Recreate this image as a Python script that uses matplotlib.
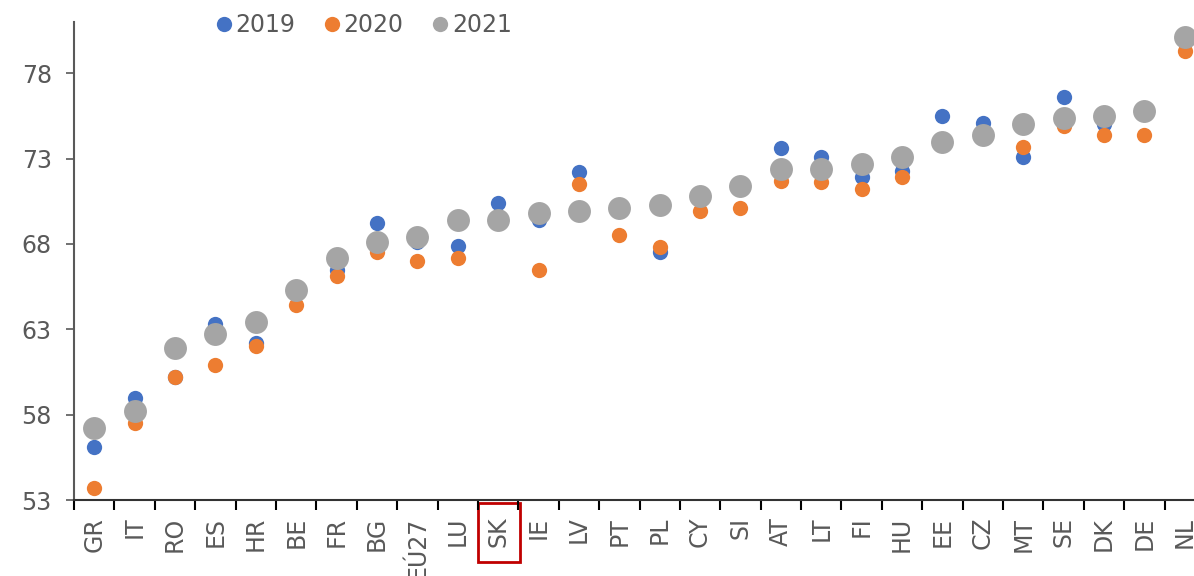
import matplotlib
matplotlib.use("Agg")
import matplotlib.pyplot as plt
from matplotlib.lines import Line2D
from matplotlib.patches import Rectangle
import matplotlib.transforms as mtransforms

# Country codes, sorted by 2021 value
countries = ["GR", "IT", "RO", "ES", "HR", "BE", "FR", "BG", "EÚ27", "LU",
             "SK", "IE", "LV", "PT", "PL", "CY", "SI", "AT", "LT", "FI",
             "HU", "EE", "CZ", "MT", "SE", "DK", "DE", "NL"]

v2019 = [56.1, 59.0, 60.2, 63.3, 62.2, 65.2, 66.5, 69.2, 68.1, 67.9,
         70.4, 69.4, 72.2, 69.9, 67.5, 70.7, 71.4, 73.6, 73.1, 71.9,
         72.3, 75.5, 75.1, 73.1, 76.6, 75.0, 75.8, 80.0]
v2020 = [53.7, 57.5, 60.2, 60.9, 62.0, 64.4, 66.1, 67.5, 67.0, 67.2,
         69.3, 66.5, 71.5, 68.5, 67.8, 69.9, 70.1, 71.7, 71.6, 71.2,
         71.9, 74.0, 74.4, 73.7, 74.9, 74.4, 74.4, 79.3]
v2021 = [57.2, 58.2, 61.9, 62.7, 63.4, 65.3, 67.2, 68.1, 68.4, 69.4,
         69.4, 69.8, 69.9, 70.1, 70.3, 70.8, 71.4, 72.4, 72.4, 72.7,
         73.1, 74.0, 74.4, 75.0, 75.4, 75.5, 75.8, 80.1]

years = ["2019", "2020", "2021"]
colors = ["#4472C4", "#ED7D31", "#A5A5A5"]
text_col = "#595959"

fig = plt.figure(figsize=(11.94, 5.76), dpi=100)
# axes run past the right edge like in the source image
ax = fig.add_axes([74 / 1194, 76 / 576, 1131 / 1194, 478 / 576])

x = list(range(len(countries)))
ax.plot(x, v2019, "o", color=colors[0], markersize=11, markeredgewidth=0, zorder=3)
ax.plot(x, v2020, "o", color=colors[1], markersize=11, markeredgewidth=0, zorder=4)
ax.plot(x, v2021, "o", color=colors[2], markersize=16.5, markeredgewidth=0, zorder=5)

ax.set_xlim(-0.5, len(countries) - 0.5)
ax.set_ylim(53, 81)
ax.set_yticks([53, 58, 63, 68, 73, 78])
ax.tick_params(axis="y", labelsize=17, labelcolor=text_col, color=text_col,
               length=6, width=1.2, pad=10)

ax.set_xticks(x)
ax.set_xticklabels(countries, rotation=90, fontsize=17, color=text_col)
ax.tick_params(axis="x", length=0, pad=12)
ax.set_xticks([i - 0.5 for i in range(len(countries) + 1)], minor=True)
ax.tick_params(axis="x", which="minor", length=7, width=1.5, color="black")

for side in ["top", "right"]:
    ax.spines[side].set_visible(False)
ax.spines["left"].set_color(text_col)
ax.spines["left"].set_linewidth(1.5)
ax.spines["bottom"].set_color("#333333")
ax.spines["bottom"].set_linewidth(1.5)

# red box around SK label
trans = mtransforms.blended_transform_factory(ax.transData, ax.transAxes)
sk = countries.index("SK")
box = Rectangle((sk - 0.5, -0.13), 1.05, 0.124, transform=trans, fill=False,
                edgecolor="#C00000", linewidth=2, clip_on=False)
ax.add_patch(box)

handles = [Line2D([], [], marker="o", linestyle="none", color=c, markersize=11,
                  markeredgewidth=0) for c in colors]
fig.legend(handles, years, loc="center", bbox_to_anchor=(0.303, 0.957), ncol=3,
           frameon=False, fontsize=17, labelcolor=text_col, handletextpad=0.0,
           columnspacing=1.05, handlelength=1.0)

fig.savefig("out.png", dpi=100)
